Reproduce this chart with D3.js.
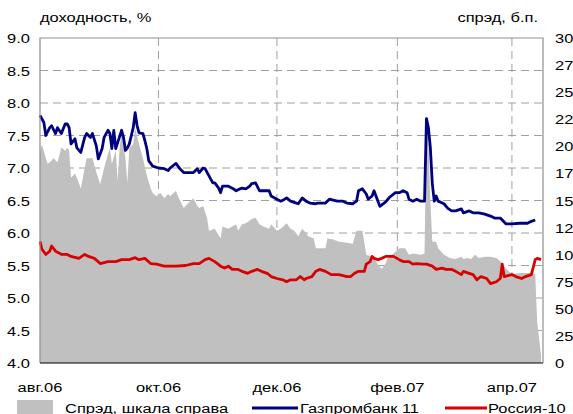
<!DOCTYPE html>
<html>
<head>
<meta charset="utf-8">
<script src="https://cdn.jsdelivr.net/npm/d3@7"></script>
<style>
  html, body { margin: 0; padding: 0; background: #fff; overflow: hidden; }
  svg { display: block; font-family: "Liberation Sans", Arial, sans-serif; }
</style>
</head>
<body>
<div id="chart"></div>
<script>
// yields, % (left axis)
var gazprom = [
  ["2006-08-01",7.81],["2006-08-03",7.70],["2006-08-04",7.50],["2006-08-06",7.62],["2006-08-07",7.65],
  ["2006-08-09",7.53],["2006-08-10",7.62],["2006-08-12",7.53],["2006-08-14",7.68],["2006-08-15",7.68],
  ["2006-08-16",7.62],["2006-08-17",7.37],["2006-08-19",7.45],["2006-08-20",7.31],["2006-08-22",7.24],
  ["2006-08-24",7.47],["2006-08-25",7.53],["2006-08-27",7.47],["2006-08-28",7.53],["2006-08-30",7.34],
  ["2006-08-31",7.14],["2006-09-02",7.30],["2006-09-03",7.47],["2006-09-05",7.58],["2006-09-06",7.53],
  ["2006-09-07",7.30],["2006-09-08",7.58],["2006-09-09",7.30],["2006-09-10",7.39],["2006-09-12",7.58],
  ["2006-09-13",7.47],["2006-09-14",7.27],["2006-09-15",7.31],["2006-09-16",7.37],["2006-09-18",7.62],
  ["2006-09-19",7.85],["2006-09-20",7.65],["2006-09-21",7.54],["2006-09-23",7.53],["2006-09-24",7.42],
  ["2006-09-25",7.30],["2006-09-26",7.11],["2006-09-27",7.07],["2006-09-28",7.03],["2006-10-01",7.00],
  ["2006-10-04",6.99],["2006-10-06",6.96],["2006-10-07",7.00],["2006-10-10",7.07],["2006-10-12",6.99],
  ["2006-10-14",6.93],["2006-10-19",6.93],["2006-10-21",6.99],["2006-10-22",6.93],["2006-10-24",7.00],
  ["2006-10-25",6.99],["2006-10-27",6.88],["2006-10-29",6.77],["2006-10-30",6.77],["2006-11-01",6.69],
  ["2006-11-02",6.62],["2006-11-03",6.72],["2006-11-06",6.72],["2006-11-08",6.69],["2006-11-10",6.65],
  ["2006-11-12",6.68],["2006-11-13",6.69],["2006-11-15",6.68],["2006-11-17",6.72],["2006-11-18",6.76],
  ["2006-11-20",6.77],["2006-11-22",6.65],["2006-11-27",6.65],["2006-11-28",6.57],["2006-12-01",6.52],
  ["2006-12-03",6.49],["2006-12-05",6.52],["2006-12-06",6.54],["2006-12-08",6.49],["2006-12-11",6.46],
  ["2006-12-12",6.45],["2006-12-14",6.54],["2006-12-16",6.49],["2006-12-18",6.46],["2006-12-21",6.45],
  ["2006-12-22",6.46],["2006-12-26",6.46],["2006-12-28",6.52],["2007-01-01",6.49],["2007-01-04",6.49],
  ["2007-01-06",6.46],["2007-01-09",6.45],["2007-01-11",6.49],["2007-01-12",6.65],["2007-01-14",6.68],
  ["2007-01-16",6.60],["2007-01-17",6.52],["2007-01-19",6.57],["2007-01-20",6.65],["2007-01-22",6.49],
  ["2007-01-23",6.41],["2007-01-26",6.48],["2007-01-28",6.55],["2007-01-31",6.62],["2007-02-02",6.62],
  ["2007-02-04",6.65],["2007-02-06",6.62],["2007-02-07",6.52],["2007-02-09",6.49],["2007-02-11",6.52],
  ["2007-02-13",6.49],["2007-02-15",6.49],["2007-02-16",7.76],["2007-02-17",7.62],["2007-02-18",7.31],
  ["2007-02-19",6.76],["2007-02-20",6.49],["2007-02-21",6.57],["2007-02-22",6.49],["2007-02-25",6.45],
  ["2007-02-27",6.38],["2007-03-01",6.34],["2007-03-03",6.34],["2007-03-06",6.37],["2007-03-07",6.31],
  ["2007-03-10",6.34],["2007-03-12",6.31],["2007-03-15",6.31],["2007-03-18",6.29],["2007-03-21",6.26],
  ["2007-03-23",6.23],["2007-03-26",6.23],["2007-03-29",6.14],["2007-04-01",6.14],["2007-04-05",6.15],
  ["2007-04-09",6.15],["2007-04-11",6.18],["2007-04-13",6.20]
];

var russia = [
  ["2006-08-01",5.87],["2006-08-02",5.75],["2006-08-04",5.67],["2006-08-06",5.72],["2006-08-07",5.80],
  ["2006-08-09",5.72],["2006-08-11",5.69],["2006-08-12",5.67],["2006-08-15",5.67],["2006-08-17",5.64],
  ["2006-08-21",5.61],["2006-08-24",5.67],["2006-08-26",5.64],["2006-08-29",5.61],["2006-09-01",5.53],
  ["2006-09-05",5.56],["2006-09-09",5.56],["2006-09-12",5.59],["2006-09-16",5.59],["2006-09-19",5.62],
  ["2006-09-21",5.59],["2006-09-24",5.61],["2006-09-27",5.53],["2006-09-30",5.52],["2006-10-04",5.49],
  ["2006-10-10",5.49],["2006-10-15",5.50],["2006-10-19",5.53],["2006-10-22",5.53],["2006-10-25",5.59],
  ["2006-10-27",5.61],["2006-10-30",5.56],["2006-11-02",5.49],["2006-11-04",5.46],["2006-11-06",5.49],
  ["2006-11-08",5.44],["2006-11-11",5.44],["2006-11-13",5.41],["2006-11-16",5.38],["2006-11-18",5.41],
  ["2006-11-21",5.44],["2006-11-23",5.41],["2006-11-26",5.38],["2006-11-28",5.33],["2006-12-01",5.30],
  ["2006-12-04",5.28],["2006-12-06",5.25],["2006-12-08",5.28],["2006-12-11",5.28],["2006-12-13",5.33],
  ["2006-12-15",5.28],["2006-12-16",5.30],["2006-12-19",5.33],["2006-12-21",5.41],["2006-12-23",5.44],
  ["2006-12-26",5.41],["2006-12-29",5.36],["2007-01-02",5.36],["2007-01-06",5.33],["2007-01-08",5.33],
  ["2007-01-10",5.38],["2007-01-12",5.41],["2007-01-15",5.41],["2007-01-16",5.52],["2007-01-18",5.56],
  ["2007-01-19",5.64],["2007-01-20",5.61],["2007-01-22",5.59],["2007-01-24",5.61],["2007-01-26",5.64],
  ["2007-01-30",5.64],["2007-02-02",5.59],["2007-02-04",5.56],["2007-02-07",5.56],["2007-02-09",5.52],
  ["2007-02-11",5.53],["2007-02-14",5.52],["2007-02-16",5.52],["2007-02-19",5.49],["2007-02-21",5.44],
  ["2007-02-24",5.46],["2007-02-26",5.44],["2007-03-01",5.44],["2007-03-03",5.41],["2007-03-06",5.36],
  ["2007-03-07",5.41],["2007-03-10",5.38],["2007-03-12",5.36],["2007-03-14",5.28],["2007-03-16",5.33],
  ["2007-03-19",5.30],["2007-03-21",5.22],["2007-03-24",5.25],["2007-03-26",5.30],["2007-03-27",5.52],
  ["2007-03-28",5.33],["2007-04-01",5.36],["2007-04-03",5.33],["2007-04-06",5.30],["2007-04-08",5.33],
  ["2007-04-11",5.36],["2007-04-13",5.59],["2007-04-14",5.61],["2007-04-16",5.59]
];

// spread, b.p. (right axis)
var spread = [
  ["2006-08-01",195],["2006-08-02",202],["2006-08-04",189],["2006-08-05",184],["2006-08-07",187],
  ["2006-08-08",189],["2006-08-10",185],["2006-08-12",199],["2006-08-14",196],["2006-08-15",199],
  ["2006-08-16",196],["2006-08-17",171],["2006-08-19",175],["2006-08-20",171],["2006-08-22",161],
  ["2006-08-24",180],["2006-08-25",189],["2006-08-28",189],["2006-08-30",176],["2006-09-01",165],
  ["2006-09-03",180],["2006-09-05",193],["2006-09-06",198],["2006-09-07",184],["2006-09-09",196],
  ["2006-09-10",168],["2006-09-11",199],["2006-09-12",212],["2006-09-14",189],["2006-09-15",166],
  ["2006-09-16",199],["2006-09-18",202],["2006-09-19",217],["2006-09-21",202],["2006-09-23",189],
  ["2006-09-25",173],["2006-09-27",161],["2006-09-28",157],["2006-09-30",154],["2006-10-02",157],
  ["2006-10-04",152],["2006-10-06",156],["2006-10-07",154],["2006-10-10",159],["2006-10-11",154],
  ["2006-10-14",143],["2006-10-16",147],["2006-10-19",152],["2006-10-21",145],["2006-10-22",143],
  ["2006-10-24",145],["2006-10-26",134],["2006-10-27",122],["2006-10-30",124],["2006-11-02",115],
  ["2006-11-03",126],["2006-11-06",124],["2006-11-10",128],["2006-11-11",122],["2006-11-13",128],
  ["2006-11-15",129],["2006-11-18",133],["2006-11-20",134],["2006-11-22",128],["2006-11-24",126],
  ["2006-11-27",124],["2006-11-28",128],["2006-12-01",122],["2006-12-03",124],["2006-12-06",129],
  ["2006-12-08",124],["2006-12-10",122],["2006-12-12",117],["2006-12-14",124],["2006-12-16",120],
  ["2006-12-17",117],["2006-12-20",115],["2006-12-21",106],["2006-12-24",106],["2006-12-26",106],
  ["2006-12-27",115],["2006-12-30",114],["2007-01-02",112],["2007-01-06",111],["2007-01-09",110],
  ["2007-01-11",122],["2007-01-14",122],["2007-01-16",100],["2007-01-19",98],["2007-01-20",97],
  ["2007-01-22",91],["2007-01-24",87],["2007-01-26",92],["2007-01-27",97],["2007-01-30",101],
  ["2007-02-02",106],["2007-02-03",106],["2007-02-05",106],["2007-02-07",100],["2007-02-09",101],
  ["2007-02-13",100],["2007-02-15",101],["2007-02-16",228],["2007-02-17",202],["2007-02-18",150],
  ["2007-02-19",112],["2007-02-21",112],["2007-02-22",106],["2007-02-25",100],["2007-02-28",97],
  ["2007-03-03",96],["2007-03-06",98],["2007-03-07",96],["2007-03-09",97],["2007-03-11",96],
  ["2007-03-13",100],["2007-03-15",97],["2007-03-18",98],["2007-03-21",98],["2007-03-24",97],
  ["2007-03-26",94],["2007-03-29",87],["2007-04-01",82],["2007-04-05",83],["2007-04-09",83],
  ["2007-04-11",83],["2007-04-13",82],["2007-04-14",38],["2007-04-16",7]
];

var yieldTicks = [4.0, 4.5, 5.0, 5.5, 6.0, 6.5, 7.0, 7.5, 8.0, 8.5, 9.0];
var spreadTicks = [0, 25, 50, 75, 100, 125, 150, 175, 200, 225, 250, 275, 300];
var monthTicks = ["2006-08-01", "2006-10-01", "2006-12-01", "2007-02-01", "2007-04-01"];
var monthLabels = ["авг.06", "окт.06", "дек.06", "фев.07", "апр.07"];
var seriesNames = ["Спрэд, шкала справа", "Газпромбанк 11", "Россия-10"];
var seriesColors = ["#c0c0c0", "#000080", "#d80000"];

var W = 573, H = 414;
var plotL = 40, plotR = 543, plotT = 38, plotB = 363;
var sx = 1.22; // text in the picture is stretched horizontally
var fontSize = 13.5;

var parse = d3.timeParse("%Y-%m-%d");

var x = d3.scaleTime()
  .domain([parse("2006-08-01"), parse("2007-04-17")])
  .range([plotL, plotR]);
var yL = d3.scaleLinear().domain([4, 9]).range([plotB, plotT]);
var yR = d3.scaleLinear().domain([0, 300]).range([plotB, plotT]);

var svg = d3.select("#chart").append("svg")
  .attr("width", W)
  .attr("height", H);

function label(px, py, str, anchor) {
  return svg.append("text")
    .attr("transform", "translate(" + px + "," + py + ") scale(" + sx + ",1)")
    .attr("text-anchor", anchor || "start")
    .style("font-size", fontSize + "px")
    .style("fill", "#000")
    .text(str);
}

// grid
svg.append("g")
  .selectAll("line")
  .data(yieldTicks.filter(function (d) { return d > 4 && d < 9; }))
  .enter().append("line")
  .attr("x1", plotL).attr("x2", plotR)
  .attr("y1", function (d) { return yL(d); })
  .attr("y2", function (d) { return yL(d); })
  .attr("stroke", "#a0a0a0")
  .attr("stroke-dasharray", "8,5");

svg.append("g")
  .selectAll("line")
  .data(monthTicks.slice(1))
  .enter().append("line")
  .attr("x1", function (d) { return x(parse(d)); })
  .attr("x2", function (d) { return x(parse(d)); })
  .attr("y1", plotT).attr("y2", plotB)
  .attr("stroke", "#a0a0a0")
  .attr("stroke-dasharray", "8,5");

// spread area
var area = d3.area()
  .x(function (d) { return x(parse(d[0])); })
  .y0(yR(0))
  .y1(function (d) { return yR(d[1]); });

svg.append("path")
  .datum(spread)
  .attr("d", area)
  .attr("fill", seriesColors[0]);

// yield lines
var line = d3.line()
  .x(function (d) { return x(parse(d[0])); })
  .y(function (d) { return yL(d[1]); });

svg.append("path")
  .datum(gazprom)
  .attr("d", line)
  .attr("fill", "none")
  .attr("stroke", seriesColors[1])
  .attr("stroke-width", 2.8)
  .attr("stroke-linejoin", "round");

svg.append("path")
  .datum(russia)
  .attr("d", line)
  .attr("fill", "none")
  .attr("stroke", seriesColors[2])
  .attr("stroke-width", 2.8)
  .attr("stroke-linejoin", "round");

// frame
svg.append("path")
  .attr("d", "M" + plotL + "," + plotB + "V" + plotT + "H" + plotR + "V" + plotB)
  .attr("fill", "none")
  .attr("stroke", "#909090")
  .attr("stroke-width", 1.2);
svg.append("line")
  .attr("x1", plotL).attr("x2", plotR)
  .attr("y1", plotB).attr("y2", plotB)
  .attr("stroke", "#000")
  .attr("stroke-width", 1.2);

// axis labels
yieldTicks.forEach(function (d) {
  label(plotL - 10, yL(d) + 5, d3.format(".1f")(d), "end");
});
spreadTicks.forEach(function (d) {
  label(plotR + 12, yR(d) + 5, d, "start");
});
monthTicks.forEach(function (d, i) {
  label(x(parse(d)), 392, monthLabels[i], "middle");
});

label(plotL, 22, "доходность, %", "start");
label(538, 22, "спрэд, б.п.", "end");

// legend
svg.append("rect")
  .attr("x", 17).attr("y", 400)
  .attr("width", 36).attr("height", 16)
  .attr("fill", seriesColors[0]);
label(65, 413, seriesNames[0], "start");

svg.append("line")
  .attr("x1", 252).attr("x2", 298)
  .attr("y1", 408).attr("y2", 408)
  .attr("stroke", seriesColors[1]).attr("stroke-width", 2.8);
label(300, 413, seriesNames[1], "start");

svg.append("line")
  .attr("x1", 445).attr("x2", 487)
  .attr("y1", 408).attr("y2", 408)
  .attr("stroke", seriesColors[2]).attr("stroke-width", 2.8);
label(488, 413, seriesNames[2], "start");
</script>
</body>
</html>
